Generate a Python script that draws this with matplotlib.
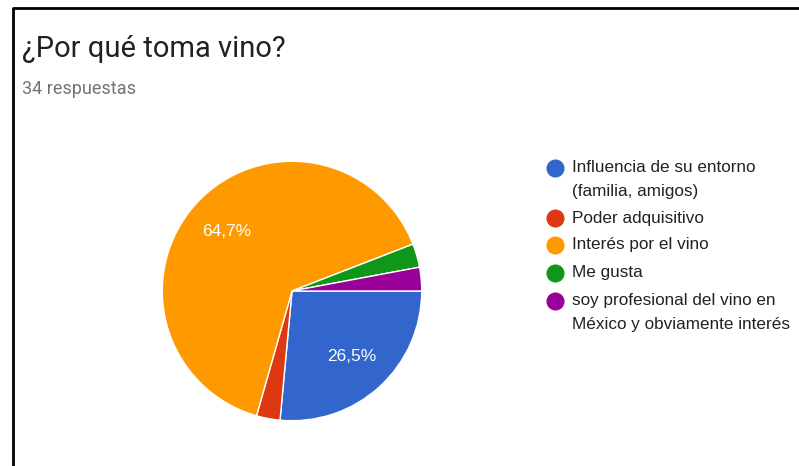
import matplotlib
matplotlib.use("Agg")
import matplotlib.pyplot as plt
from matplotlib.lines import Line2D

# survey data: 34 answers
labels = ['Influencia de su entorno\n(familia, amigos)', 'Poder adquisitivo',
          'Interés por el vino', 'Me gusta',
          'soy profesional del vino en\nMéxico y obviamente interés']
counts = [9, 1, 22, 1, 1]
colors = ['#3366cc', '#dc3912', '#ff9900', '#109618', '#990099']
title = '¿Por qué toma vino?'
subtitle = '34 respuestas'

W, H = 799, 466
fig = plt.figure(figsize=(W / 100, H / 100), dpi=100)

# overlay in pixel coords for frame, title and legend
ov = fig.add_axes([0, 0, 1, 1])
ov.set_xlim(0, W)
ov.set_ylim(H, 0)
ov.axis('off')
ov.add_line(Line2D([13, 13, W], [H, 8, 8], color='black', lw=2))

ov.text(22, 57, title, fontsize=21, family='Roboto', color='#202124')
ov.text(22, 94, subtitle, fontsize=13, family='Roboto', color='#70757a')

# pie
cx, cy, r = 292, 291, 131
ax = fig.add_axes([(cx - r) / W, (H - cy - r) / H, 2 * r / W, 2 * r / H])


def pct(p):
    return ('%.1f%%' % p).replace('.', ',') if p > 5 else ''


wedges, _, autotexts = ax.pie(counts, colors=colors, startangle=0, counterclock=False,
                              autopct=pct, pctdistance=0.68,
                              wedgeprops=dict(edgecolor='white', linewidth=1))
for t in autotexts:
    t.set_color('white')
    t.set_fontsize(12.5)
    t.set_family('Liberation Sans')
ax.set_xlim(-1.01, 1.01)
ax.set_ylim(-1.01, 1.01)
ax.set_aspect('equal')

# legend
marker_y = [168, 218, 245, 273, 301]
for lab, col, y in zip(labels, colors, marker_y):
    ov.plot([555], [y], 'o', ms=12, color=col)
    for i, ln in enumerate(lab.split('\n')):
        ov.text(572, y + i * 23.5, ln, fontsize=12.3, family='Liberation Sans',
                color='#222222', va='center')

fig.savefig('out.png', dpi=100)
